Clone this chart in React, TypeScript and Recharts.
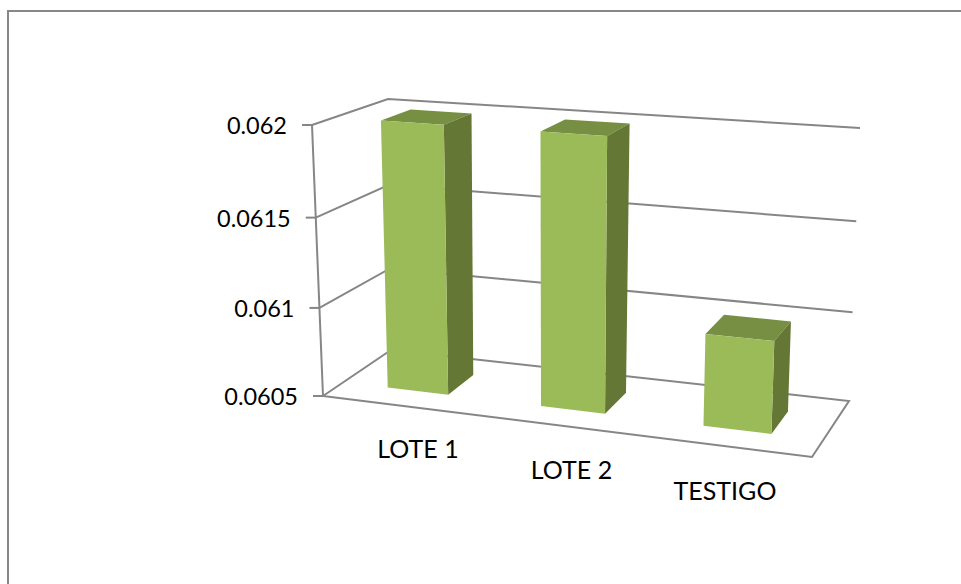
import { BarChart, Bar, XAxis, YAxis, CartesianGrid } from "recharts";

const categories = ["LOTE 1", "LOTE 2", "TESTIGO"];
const values = [0.062, 0.062, 0.061];
const yTicks = [0.0605, 0.061, 0.0615, 0.062];

const chartData = categories.map((name, i) => ({ name, value: values[i] }));

const WIDTH = 961;
const HEIGHT = 584;

// flat plot area used by recharts, everything is projected from it to the 3D box
const PLOT_LEFT = 100;
const PLOT_WIDTH = 800;
const PLOT_TOP = 100;
const PLOT_HEIGHT = 384;

// corners of the 3D box on the page
const FRONT_BOTTOM_LEFT = [323, 396];
const FRONT_BOTTOM_RIGHT = [812, 457];
const FRONT_TOP_LEFT = [312, 125];
const FRONT_TOP_RIGHT = [823, 162];
const BACK_BOTTOM_LEFT = [391, 350];
const BACK_BOTTOM_RIGHT = [849, 401];
const BACK_TOP_LEFT = [388, 99];
const BACK_TOP_RIGHT = [860, 128];

const BAR_FRONT = 0.3;
const BAR_BACK = 0.71;

const GRID_COLOR = "#868686";
const GRID_WIDTH = 2;
const FONT = "Lato, sans-serif";

const mix = (a: number[], b: number[], t: number) => [
  a[0] + (b[0] - a[0]) * t,
  a[1] + (b[1] - a[1]) * t,
];

// foreshortening along the width and height of the box
const perspective = (t: number, k: number) => (k * t) / (1 + (k - 1) * t);

const project = (u: number, v: number, w: number) => {
  const gu = perspective(u, 0.916);
  const gv = perspective(v, 0.963);
  const front = mix(
    mix(FRONT_BOTTOM_LEFT, FRONT_BOTTOM_RIGHT, gu),
    mix(FRONT_TOP_LEFT, FRONT_TOP_RIGHT, gu),
    gv
  );
  const back = mix(
    mix(BACK_BOTTOM_LEFT, BACK_BOTTOM_RIGHT, gu),
    mix(BACK_TOP_LEFT, BACK_TOP_RIGHT, gu),
    gv
  );
  return mix(front, back, w);
};

const toU = (x: number) => (x - PLOT_LEFT) / PLOT_WIDTH;
const toV = (y: number) => (PLOT_TOP + PLOT_HEIGHT - y) / PLOT_HEIGHT;
const pts = (list: number[][]) => list.map((p) => `${p[0]},${p[1]}`).join(" ");

// wall and floor lines, one for each y tick
const GridLine = (props: any) => {
  const v = toV(props.y1);
  const isFloor = Math.abs(v) < 0.001;
  const line = [project(0, v, 0), project(0, v, 1), project(1, v, 1)];
  if (isFloor) line.push(project(1, v, 0), project(0, v, 0));
  return (
    <g>
      <polyline
        points={pts(line)}
        fill="none"
        stroke={GRID_COLOR}
        strokeWidth={GRID_WIDTH}
      />
      {isFloor && (
        <polyline
          points={pts([project(0, 0, 0), project(0, 1, 0)])}
          fill="none"
          stroke={GRID_COLOR}
          strokeWidth={GRID_WIDTH}
        />
      )}
    </g>
  );
};

const YTick = ({ y, payload }: any) => {
  const [px, py] = project(0, toV(y), 0);
  return (
    <g>
      <line
        x1={px - 10}
        y1={py}
        x2={px}
        y2={py}
        stroke={GRID_COLOR}
        strokeWidth={GRID_WIDTH}
      />
      <text
        x={px - 25}
        y={py + 9}
        textAnchor="end"
        fontFamily={FONT}
        fontSize={23.5}
        fill="#000"
      >
        {payload.value}
      </text>
    </g>
  );
};

// category labels follow the front floor edge, at an even spacing
const XTick = ({ x, payload }: any) => {
  const u = toU(x) - 0.5;
  return (
    <text
      x={571.5 + u * 460.5}
      y={479 + u * 63}
      textAnchor="middle"
      fontFamily={FONT}
      fontSize={25}
      fill="#000"
    >
      {payload.value}
    </text>
  );
};

const Bar3D = ({ x, y, width, height }: any) => {
  const u0 = toU(x);
  const u1 = toU(x + width);
  const top = toV(y);
  const bottom = toV(y + height);
  const face = (a: number[], b: number[], c: number[], d: number[]) =>
    pts([a, b, c, d]);
  return (
    <g>
      <polygon
        points={face(
          project(u0, top, BAR_FRONT),
          project(u1, top, BAR_FRONT),
          project(u1, top, BAR_BACK),
          project(u0, top, BAR_BACK)
        )}
        fill="#778F42"
      />
      <polygon
        points={face(
          project(u1, top, BAR_FRONT),
          project(u1, top, BAR_BACK),
          project(u1, bottom, BAR_BACK),
          project(u1, bottom, BAR_FRONT)
        )}
        fill="#647735"
      />
      <polygon
        points={face(
          project(u0, top, BAR_FRONT),
          project(u1, top, BAR_FRONT),
          project(u1, bottom, BAR_FRONT),
          project(u0, bottom, BAR_FRONT)
        )}
        fill="#9BBB59"
      />
    </g>
  );
};

export default function App() {
  return (
    <div
      style={{
        position: "absolute",
        left: 0,
        top: 0,
        width: WIDTH,
        height: HEIGHT,
        background: "#fff",
        overflow: "hidden",
      }}
    >
      {/* chart frame, only top and left edges are in the picture */}
      <div
        style={{
          position: "absolute",
          left: 7,
          top: 10,
          width: WIDTH,
          height: HEIGHT,
          borderTop: "2px solid #878787",
          borderLeft: "2px solid #878787",
        }}
      />
      <div style={{ position: "absolute", left: 0, top: 0 }}>
        <BarChart
          width={WIDTH}
          height={HEIGHT}
          data={chartData}
          barCategoryGap="30%"
          margin={{ top: PLOT_TOP, right: 61, left: 40, bottom: 70 }}
        >
          <CartesianGrid horizontal={GridLine} vertical={false} />
          <XAxis
            dataKey="name"
            height={30}
            interval={0}
            axisLine={false}
            tickLine={false}
            tick={XTick}
          />
          <YAxis
            width={60}
            domain={[0.0605, 0.062]}
            ticks={yTicks}
            interval={0}
            axisLine={false}
            tickLine={false}
            tick={YTick}
          />
          <Bar dataKey="value" shape={Bar3D} isAnimationActive={false} />
        </BarChart>
      </div>
    </div>
  );
}
